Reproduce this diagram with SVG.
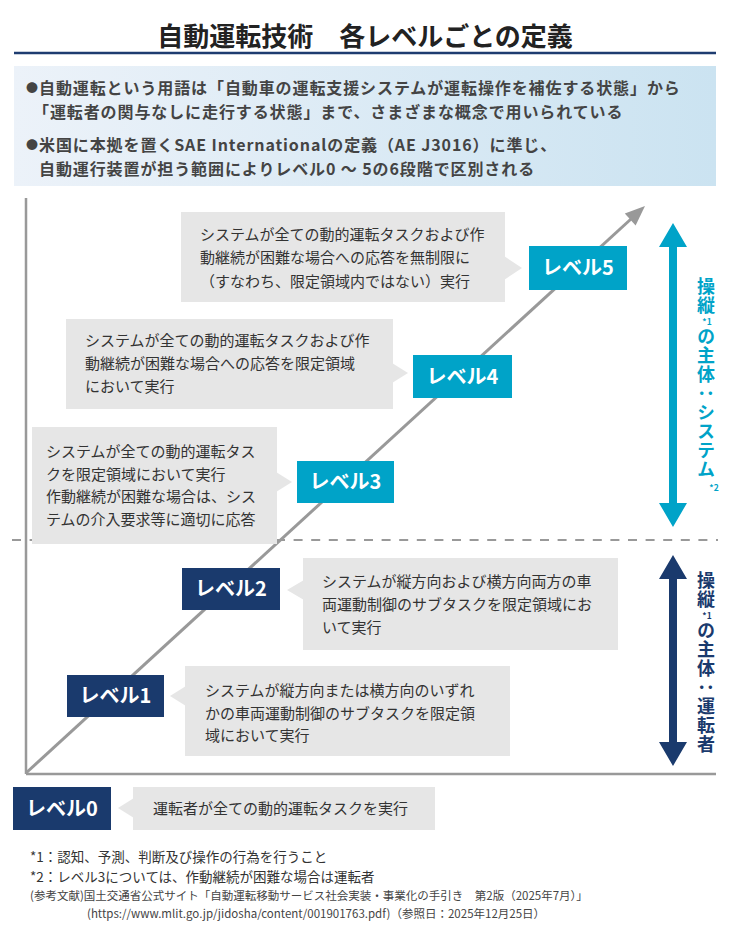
<svg xmlns="http://www.w3.org/2000/svg" width="730" height="935" viewBox="0 0 730 935">
<defs>
<linearGradient id="infoGrad" x1="0" y1="0" x2="1" y2="0">
<stop offset="0" stop-color="#ecf2f9"/>
<stop offset="1" stop-color="#cbe3f1"/>
</linearGradient>
<style>
text{font-family:"Noto Sans CJK JP","Noto Sans",sans-serif;}
.title{font-size:26px;font-weight:700;fill:#222;}
.info{font-size:16px;font-weight:700;fill:#444;letter-spacing:0.9px;}
.dot{font-size:12px;fill:#444;}
.bub{fill:#e6e6e6;}
.bt{font-size:15px;fill:#333;}
.lvl{font-size:20px;font-weight:700;fill:#fff;text-anchor:middle;}
.cy{fill:#00a3c8;}
.nv{fill:#1a3a6d;}
.vt{font-size:18px;font-weight:700;writing-mode:vertical-rl;letter-spacing:1px;}
.sup{font-size:8.5px;font-weight:700;text-anchor:middle;}
.fn{font-size:13.5px;fill:#333;}
.ref{font-size:11.5px;fill:#444;}
.axis{stroke:#999;stroke-width:2.5;fill:none;}
</style>
</defs>
<rect width="730" height="935" fill="#fff"/>

<g id="title">
<text class="title" x="365" y="46" text-anchor="middle">自動運転技術　各レベルごとの定義</text>
<line x1="14" y1="53" x2="716" y2="53" stroke="#1e3c70" stroke-width="2.5"/>
</g>

<g id="info">
<rect x="14" y="66" width="702" height="120" fill="url(#infoGrad)"/>
<text class="dot" x="26" y="93">●</text>
<text class="info" x="39" y="94">自動運転という用語は「自動車の運転支援システムが運転操作を補佐する状態」から</text>
<text class="info" x="33" y="117.5">「運転者の関与なしに走行する状態」まで、さまざまな概念で用いられている</text>
<text class="dot" x="26" y="150">●</text>
<text class="info" x="39" y="151">米国に本拠を置くSAE Internationalの定義（AE J3016）に準じ、</text>
<text class="info" x="39" y="174.5">自動運行装置が担う範囲によりレベル0 ～ 5の6段階で区別される</text>
</g>

<g id="connectors">
<line class="axis" x1="26" y1="198" x2="26" y2="774"/>
<line class="axis" x1="26" y1="774" x2="716" y2="774"/>
<line x1="12" y1="540" x2="718" y2="540" stroke="#999" stroke-width="2" stroke-dasharray="9 8.6"/>
<line x1="26" y1="773" x2="631" y2="219" stroke="#999" stroke-width="3"/>
<polygon points="645,206 635.6,225.4 624.8,213.6" fill="#999"/>
<polygon class="cy" points="673,223 687,247 677,247 677,503 687,503 673,527 659,503 669,503 669,247 659,247"/>
<polygon class="nv" points="673,555 687,579 677,579 677,742 687,742 673,766 659,742 669,742 669,579 659,579"/>
</g>

<g id="level5">
<rect class="bub" x="181" y="212" width="324" height="90"/>
<polygon class="bub" points="504,256 522,268 504,280"/>
<text class="bt" x="200" y="240">システムが全ての動的運転タスクおよび作</text>
<text class="bt" x="200" y="263">動継続が困難な場合への応答を無制限に</text>
<text class="bt" x="200" y="287">（すなわち、限定領域内ではない）実行</text>
<rect class="cy" x="529" y="246" width="98" height="44"/>
<text class="lvl" x="578" y="275">レベル5</text>
</g>

<g id="level4">
<rect class="bub" x="66" y="319" width="327" height="90"/>
<polygon class="bub" points="392,363 408,373 392,383"/>
<text class="bt" x="85" y="346">システムが全ての動的運転タスクおよび作</text>
<text class="bt" x="85" y="369">動継続が困難な場合への応答を限定領域</text>
<text class="bt" x="85" y="392">において実行</text>
<rect class="cy" x="413" y="355" width="99" height="43"/>
<text class="lvl" x="462.5" y="383.5">レベル4</text>
</g>

<g id="level3">
<rect class="bub" x="32" y="427" width="245" height="117"/>
<polygon class="bub" points="276,472 292,482 276,492"/>
<text class="bt" x="46" y="457">システムが全ての動的運転タス</text>
<text class="bt" x="46" y="480">クを限定領域において実行</text>
<text class="bt" x="46" y="502">作動継続が困難な場合は、シス</text>
<text class="bt" x="46" y="525">テムの介入要求等に適切に応答</text>
<rect class="cy" x="297" y="461" width="97" height="42"/>
<text class="lvl" x="345.5" y="489">レベル3</text>
</g>

<g id="level2">
<rect class="bub" x="303" y="558" width="315" height="92"/>
<polygon class="bub" points="304,580 287,590 304,600"/>
<text class="bt" x="322" y="587">システムが縦方向および横方向両方の車</text>
<text class="bt" x="322" y="610">両運動制御のサブタスクを限定領域にお</text>
<text class="bt" x="322" y="633">いて実行</text>
<rect class="nv" x="182" y="568" width="98" height="42"/>
<text class="lvl" x="231" y="596">レベル2</text>
</g>

<g id="level1">
<rect class="bub" x="185" y="666" width="325" height="90"/>
<polygon class="bub" points="186,686 170,696 186,706"/>
<text class="bt" x="205" y="696">システムが縦方向または横方向のいずれ</text>
<text class="bt" x="205" y="719">かの車両運動制御のサブタスクを限定領</text>
<text class="bt" x="205" y="741">域において実行</text>
<rect class="nv" x="67" y="675" width="97" height="42"/>
<text class="lvl" x="115.5" y="703">レベル1</text>
</g>

<g id="level0">
<rect class="bub" x="133" y="787" width="302" height="43"/>
<polygon class="bub" points="134,798 118,808 134,818"/>
<text class="bt" x="153" y="814">運転者が全ての動的運転タスクを実行</text>
<rect class="nv" x="13" y="787" width="98" height="43"/>
<text class="lvl" x="62" y="815.5">レベル0</text>
</g>

<g id="label-system" class="cy">
<text class="vt" x="706" y="277">操縦</text>
<text class="sup" x="707" y="324.5">*1</text>
<text class="vt" x="706" y="327.5">の主体：システム</text>
<text class="sup" x="714" y="491">*2</text>
</g>

<g id="label-driver" class="nv">
<text class="vt" x="706" y="571">操縦</text>
<text class="sup" x="707" y="618.5">*1</text>
<text class="vt" x="706" y="621.5">の主体：運転者</text>
</g>

<g id="footnotes">
<text class="fn" x="30" y="862">*1：認知、予測、判断及び操作の行為を行うこと</text>
<text class="fn" x="30" y="882">*2：レベル3については、作動継続が困難な場合は運転者</text>
<text class="ref" x="30" y="900">(参考文献)国土交通省公式サイト「自動運転移動サービス社会実装・事業化の手引き　第2版（2025年7月）」</text>
<text class="ref" x="87" y="918">(https://www.mlit.go.jp/jidosha/content/001901763.pdf)（参照日：2025年12月25日）</text>
</g>
</svg>
